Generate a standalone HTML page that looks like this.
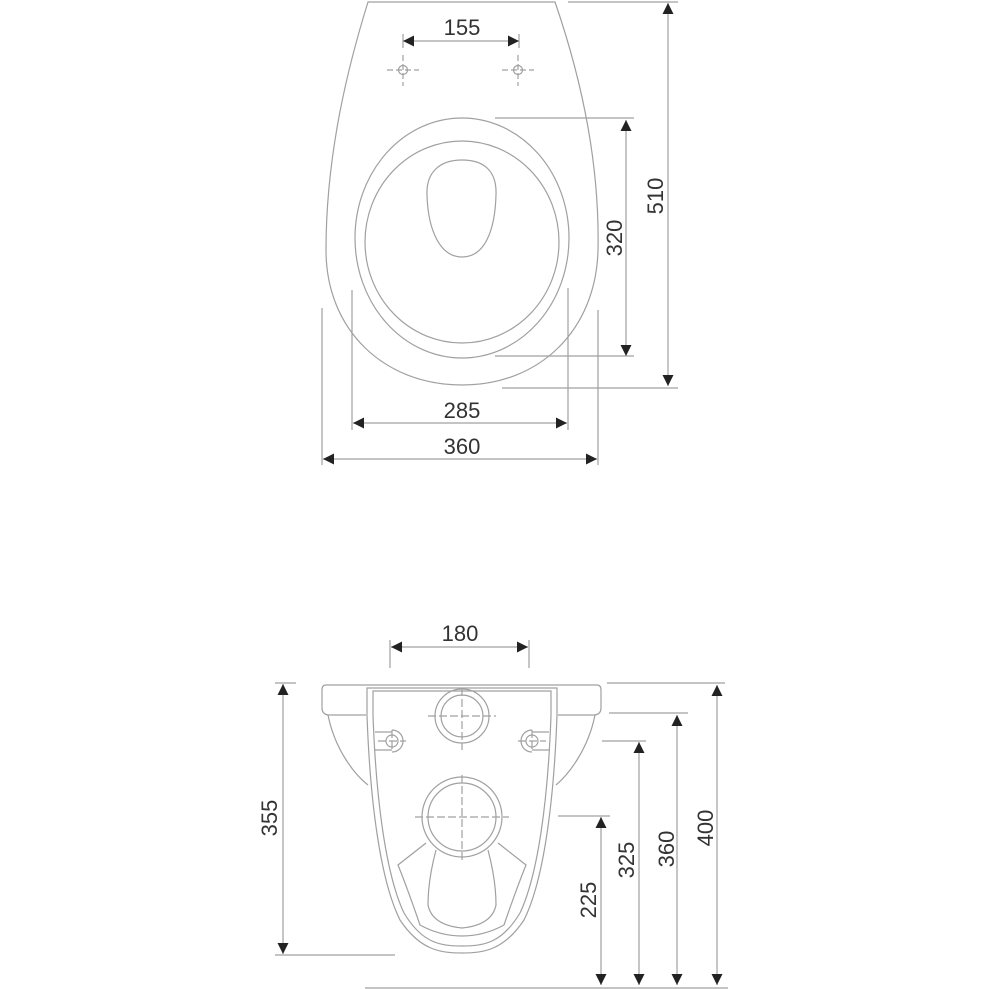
<!DOCTYPE html>
<html><head><meta charset="utf-8"><style>
html,body{margin:0;padding:0;background:#fff;}
svg{display:block}
text{font-family:"Liberation Sans",sans-serif;font-size:22px;fill:#333;}
</style></head><body>
<svg width="989" height="989" viewBox="0 0 989 989" xmlns="http://www.w3.org/2000/svg">
<defs>
<marker id="a" viewBox="0 0 10 10" refX="10" refY="5" markerWidth="11" markerHeight="11" markerUnits="userSpaceOnUse" orient="auto-start-reverse"><path d="M0,0 L10,5 L0,10 Z" fill="#222"/></marker>
</defs>
<g fill="none" stroke="#a0a0a0" stroke-width="1.2">
<path d="M368,2 L555,2 C575,60 600,150 598,250 C596,330 540,385 462,385 C384,385 326,330 326,250 C326,150 350,60 368,2 Z"/>
<ellipse cx="462" cy="238" rx="107" ry="120"/>
<ellipse cx="462" cy="242" rx="97" ry="101"/>
<path d="M462,160 C485,160 497,172 496,195 C495,230 485,257 462,257 C440,257 428,230 427,195 C426,172 440,160 462,160 Z"/>
<circle cx="403" cy="70" r="4.5"/><circle cx="518" cy="70" r="4.5"/>
<path d="M387,70H419M403,55V86M502,70H534M518,55V86" stroke-dasharray="6,3"/>
<path d="M403,34V48M519,34V48"/>
<path d="M495,118H634M495,356H634M568,2H678M502,388H678"/>
<path d="M352,290V430M568,288V430M322,308V465M598,310V465"/>
</g>
<g stroke="#a0a0a0" stroke-width="1.2" fill="none">
<line x1="403" y1="41" x2="519" y2="41" marker-start="url(#a)" marker-end="url(#a)"/>
<line x1="626" y1="120" x2="626" y2="356" marker-start="url(#a)" marker-end="url(#a)"/>
<line x1="668" y1="3" x2="668" y2="386" marker-start="url(#a)" marker-end="url(#a)"/>
<line x1="353" y1="423" x2="567" y2="423" marker-start="url(#a)" marker-end="url(#a)"/>
<line x1="323" y1="459" x2="597" y2="459" marker-start="url(#a)" marker-end="url(#a)"/>
</g>
<text x="462" y="35" text-anchor="middle">155</text>
<text x="462" y="418" text-anchor="middle">285</text>
<text x="462" y="454" text-anchor="middle">360</text>
<text transform="translate(622,238) rotate(-90)" text-anchor="middle">320</text>
<text transform="translate(663,196) rotate(-90)" text-anchor="middle">510</text>

<g fill="none" stroke="#a0a0a0" stroke-width="1.2">
<path d="M326,685 H597 Q601,685 601,690 V708 Q601,714 595,715 H558"/>
<path d="M326,685 Q322,685 322,690 V708 Q322,714 328,715 H366"/>
<path d="M328,715 C335,750 355,775 368,785"/>
<path d="M595,715 C588,750 568,775 556,785"/>
<path d="M367,688 V715 C370,800 380,880 400,920 C420,950 440,953 462,953 C484,953 504,950 524,920 C544,880 554,800 557,715 V688 Z"/>
<path d="M373,691 H551 V715 C548,800 538,875 520,913 C502,943 484,946 462,946 C440,946 422,943 404,913 C386,875 376,800 373,715 Z"/>
<circle cx="462" cy="716" r="27"/><circle cx="462" cy="716" r="21"/>
<circle cx="462" cy="817" r="40"/><circle cx="462" cy="817" r="34"/>
<path d="M426,843 L398,865 Q408,890 420,925 Q440,936 462,936 Q484,936 504,925 Q516,890 526,865 L498,843"/>
<path d="M436,850 Q428,880 428,905 Q432,925 462,928 Q492,925 496,905 Q496,880 488,850"/>
<path d="M375,732 H392 M375,750 H392"/>
<path d="M392,730 A11,11 0 1 1 392,752"/>
<circle cx="392" cy="741" r="6"/>
<path d="M549,732 H532 M549,750 H532"/>
<path d="M532,730 A11,11 0 1 0 532,752"/>
<circle cx="532" cy="741" r="6"/>
<path d="M462,688 V750 M428,716 H496 M462,775 V860 M415,817 H509 M378,741 H406 M392,730 V752 M518,741 H546 M532,730 V752" stroke-dasharray="8,3"/>
<path d="M390,640V668M529,640V668"/>
<path d="M275,683H296M275,955H395"/>
<path d="M607,683H725M609,713H688M602,741H646M558,816H610M365,988H728"/>
</g>
<g stroke="#a0a0a0" stroke-width="1.2" fill="none">
<line x1="391" y1="647" x2="528" y2="647" marker-start="url(#a)" marker-end="url(#a)"/>
<line x1="283" y1="684" x2="283" y2="954" marker-start="url(#a)" marker-end="url(#a)"/>
<line x1="717" y1="685" x2="717" y2="985" marker-start="url(#a)" marker-end="url(#a)"/>
<line x1="677" y1="715" x2="677" y2="985" marker-start="url(#a)" marker-end="url(#a)"/>
<line x1="639" y1="742" x2="639" y2="985" marker-start="url(#a)" marker-end="url(#a)"/>
<line x1="601" y1="817" x2="601" y2="985" marker-start="url(#a)" marker-end="url(#a)"/>
</g>
<text x="460" y="641" text-anchor="middle">180</text>
<text transform="translate(277,818) rotate(-90)" text-anchor="middle">355</text>
<text transform="translate(713,828) rotate(-90)" text-anchor="middle">400</text>
<text transform="translate(674,849) rotate(-90)" text-anchor="middle">360</text>
<text transform="translate(634,860) rotate(-90)" text-anchor="middle">325</text>
<text transform="translate(596,900) rotate(-90)" text-anchor="middle">225</text>
</svg>
</body></html>
